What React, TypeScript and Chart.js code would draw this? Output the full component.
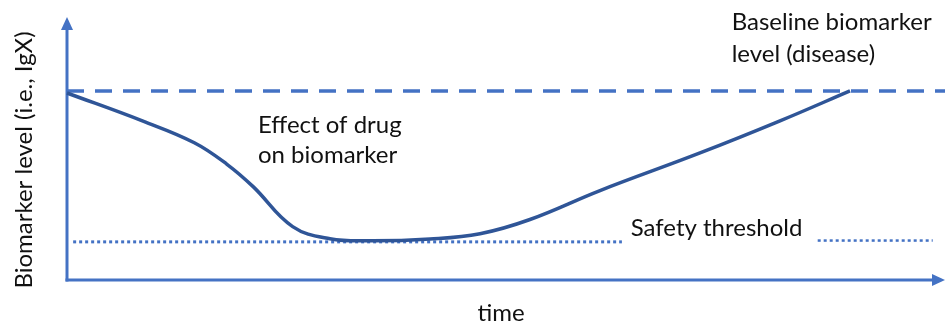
import React, { useEffect, useRef } from "react";
import { Chart, registerables } from "chart.js";

Chart.register(...registerables);

// time axis: 0..100 (arbitrary units); biomarker level: 0..10 (arbitrary units)
const curveTime = [0, 8.66, 14.5, 18.22, 21.2, 25.7, 29.95, 34.51, 41.34, 47.04, 52.73, 60.71, 72.1, 81.21, 89.18];
const curveLevel = [7.11, 6.04, 5.22, 4.4, 3.55, 2.03, 1.57, 1.49, 1.56, 1.76, 2.3, 3.4, 4.83, 6.05, 7.19];
const baselineLevel = 7.19;
const baselineSpan = [0, 100];
const thresholdLevel = 1.45;
const thresholdLeftSpan = [0.7, 63.2];
const thresholdRightSpan = [85.5, 98.6];
const xRange = [0, 100];
const yRange = [0, 10];

const labels = {
  baseline: ["Baseline biomarker", "level (disease)"],
  effect: ["Effect of drug", "on biomarker"],
  threshold: "Safety threshold",
  xTitle: "time",
  yTitle: "Biomarker level (i.e., IgX)",
};

const AXIS_COLOR = "#4472C4";
const CURVE_COLOR = "#2F5597";
const FONT = "Lato";

export default function App() {
  const ref = useRef<HTMLCanvasElement | null>(null);
  useEffect(() => {
    document.body.style.margin = "0";
    const canvas = ref.current!;
    const deco = {
      id: "deco",
      beforeDatasetsDraw(chart: any) {
        const { ctx, chartArea } = chart;
        const { left, right, top, bottom } = chartArea;
        ctx.save();
        ctx.strokeStyle = AXIS_COLOR;
        ctx.fillStyle = AXIS_COLOR;
        ctx.lineWidth = 3;
        ctx.lineCap = "butt";
        ctx.beginPath();
        ctx.moveTo(left, bottom + 1.5);
        ctx.lineTo(left, top + 10);
        ctx.stroke();
        ctx.beginPath();
        ctx.moveTo(left, top);
        ctx.lineTo(left - 6, top + 13);
        ctx.lineTo(left + 6, top + 13);
        ctx.closePath();
        ctx.fill();
        ctx.beginPath();
        ctx.moveTo(left - 1.5, bottom);
        ctx.lineTo(right - 10, bottom);
        ctx.stroke();
        ctx.beginPath();
        ctx.moveTo(right, bottom);
        ctx.lineTo(right - 13, bottom - 6);
        ctx.lineTo(right - 13, bottom + 6);
        ctx.closePath();
        ctx.fill();
        ctx.restore();
      },
      afterDraw(chart: any) {
        const { ctx, chartArea } = chart;
        const x = chart.scales.x;
        const y = chart.scales.y;
        ctx.save();
        ctx.fillStyle = "#111111";
        ctx.font = `24px ${FONT}`;
        ctx.textBaseline = "alphabetic";
        ctx.textAlign = "left";
        const by = y.getPixelForValue(baselineLevel);
        const bx = x.getPixelForValue(75.7);
        ctx.fillText(labels.baseline[0], bx, by - 61);
        ctx.fillText(labels.baseline[1], bx, by - 29);
        const ex = x.getPixelForValue(21.75);
        ctx.fillText(labels.effect[0], ex, by + 42);
        ctx.fillText(labels.effect[1], ex, by + 72);
        const tx = x.getPixelForValue(64.2);
        ctx.fillText(labels.threshold, tx, y.getPixelForValue(thresholdLevel) - 6);
        ctx.textAlign = "center";
        ctx.fillText(labels.xTitle, 501, chartArea.bottom + 41);
        ctx.translate(32, 160);
        ctx.rotate(-Math.PI / 2);
        ctx.fillText(labels.yTitle, 0, 0);
        ctx.restore();
      },
    };
    const chart = new Chart(canvas, {
      type: "line",
      data: {
        datasets: [
          {
            data: curveTime.map((t, i) => ({ x: t, y: curveLevel[i] })),
            borderColor: CURVE_COLOR,
            borderWidth: 3.5,
            pointRadius: 0,
            tension: 0.4,
            fill: false,
          },
          {
            data: baselineSpan.map((t) => ({ x: t, y: baselineLevel })),
            borderColor: AXIS_COLOR,
            borderWidth: 3.5,
            borderDash: [17, 11],
            pointRadius: 0,
          },
          {
            data: thresholdLeftSpan.map((t) => ({ x: t, y: thresholdLevel })),
            borderColor: AXIS_COLOR,
            borderWidth: 3,
            borderDash: [3, 3],
            pointRadius: 0,
          },
          {
            data: thresholdRightSpan.map((t) => ({ x: t, y: thresholdLevel + 0.05 })),
            borderColor: AXIS_COLOR,
            borderWidth: 2.5,
            borderDash: [3, 3],
            pointRadius: 0,
          },
        ],
      },
      options: {
        responsive: false,
        animation: false,
        clip: false as any,
        layout: { padding: { left: 67, right: 2, top: 17, bottom: 45 } },
        plugins: { legend: { display: false }, tooltip: { enabled: false } },
        scales: {
          x: { type: "linear", min: xRange[0], max: xRange[1], display: false },
          y: { type: "linear", min: yRange[0], max: yRange[1], display: false },
        },
      },
      plugins: [deco],
    });
    return () => chart.destroy();
  }, []);
  return <canvas ref={ref} width={947} height={325} style={{ display: "block" }} />;
}
